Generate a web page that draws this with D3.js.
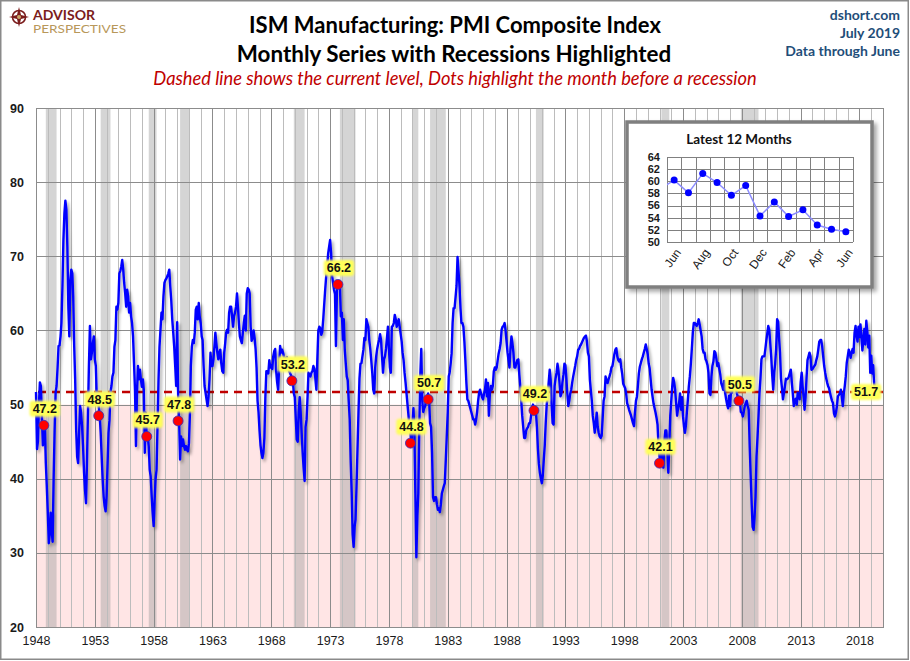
<!DOCTYPE html>
<html>
<head>
<meta charset="utf-8">
<title>ISM Manufacturing: PMI Composite Index</title>
<script src="https://cdn.jsdelivr.net/npm/d3@7"></script>
<style>
  body { margin: 0; background: #fff; }
  svg { display: block; }
</style>
</head>
<body>
<div id="chart"></div>
<script>
// -----------------------------
// DATA (monthly PMI, starts Jan 1948)
// -----------------------------
const pmi1940s = [
  51.7, 44.0, 45.0, 50.0, 53.0, 52.5, 48.5, 44.5, 46.0, 47.2, 42.1, 39.0,
  35.5, 31.3, 32.5, 35.4, 33.0, 31.5, 40.0, 46.5, 51.6, 52.5, 55.0, 57.9
];
const pmi1950s = [
  58.0, 59.2, 61.0, 66.0, 72.2, 75.8, 77.5, 76.3, 71.3, 63.2, 59.2, 66.8,
  68.2, 67.7, 64.6, 57.9, 53.4, 46.6, 43.0, 42.1, 46.2, 49.8, 48.9, 47.1,
  44.4, 40.8, 38.5, 36.7, 42.1, 48.9, 55.2, 60.6, 56.1, 57.0, 58.3, 59.2,
  56.1, 55.2, 51.1, 51.6, 49.8, 48.5, 46.2, 43.0, 39.9, 37.6, 36.3, 35.6,
  37.6, 42.1, 46.2, 47.9, 51.6, 52.5, 53.8, 54.3, 57.8, 58.7, 63.2, 62.8,
  63.7, 67.7, 68.0, 68.6, 69.5, 68.2, 66.4, 65.0, 63.2, 65.5, 64.6, 62.4,
  63.7, 61.9, 61.0, 59.2, 55.6, 52.0, 44.4, 51.6, 55.2, 53.4, 54.7, 53.4,
  52.4, 53.4, 52.0, 43.5, 48.9, 45.3, 45.7, 44.4, 41.2, 40.3, 37.6, 35.4,
  33.6, 37.2, 39.9, 41.2, 47.1, 53.4, 57.8, 60.1, 62.4, 61.5, 64.6, 66.4,
  66.8, 67.0, 67.3, 67.7, 68.2, 65.9, 64.1, 61.5, 59.7, 57.8, 55.2, 52.5
];
const pmi1960s = [
  61.1, 51.1, 47.8, 42.6, 45.7, 44.4, 45.3, 44.4, 43.9, 44.4, 43.9, 43.7,
  44.8, 48.9, 55.2, 57.8, 58.7, 58.3, 59.7, 62.8, 63.2, 61.5, 63.7, 61.9,
  61.0, 59.2, 58.7, 55.2, 52.5, 51.6, 50.7, 49.8, 51.1, 53.4, 57.0, 55.2,
  55.2, 56.1, 57.8, 59.7, 58.3, 57.0, 56.1, 57.0, 57.4, 55.6, 54.5, 54.3,
  57.0, 58.3, 59.7, 60.1, 59.7, 62.4, 63.2, 63.2, 61.9, 60.5, 61.9, 62.4,
  63.2, 65.0, 63.2, 61.0, 59.2, 58.7, 58.3, 59.7, 61.0, 62.0, 60.0, 65.0,
  65.7, 65.5, 65.0, 60.5, 58.6, 59.0, 60.0, 59.0, 57.5, 55.0, 50.5, 49.0,
  46.5, 44.5, 43.5, 42.8, 43.5, 45.5, 51.0, 54.5, 54.5, 54.2, 56.0, 55.0,
  55.3, 54.8, 56.5, 57.2, 57.5, 54.5, 53.0, 52.0, 55.0, 57.9, 57.0, 57.4,
  57.0, 56.4, 56.3, 56.2, 56.4, 55.2, 54.6, 54.3, 54.0, 53.5, 53.2, 51.5
];
const pmi1970s = [
  51.0, 48.0, 45.3, 45.0, 49.0, 51.0, 49.0, 46.2, 43.5, 41.5, 39.7, 47.0,
  48.0, 51.1, 54.3, 54.0, 53.8, 54.3, 54.5, 55.2, 54.8, 53.5, 52.0, 56.1,
  60.0, 60.5, 60.3, 59.4, 59.8, 61.5, 63.5, 65.5, 67.3, 68.6, 70.4, 71.3,
  72.2, 70.4, 67.5, 66.4, 65.5, 64.9, 57.9, 65.5, 66.5, 66.2, 66.0, 61.9,
  62.4, 58.7, 61.5, 57.4, 55.6, 53.8, 53.3, 50.5, 48.0, 42.5, 38.2, 32.5,
  30.8, 33.5, 34.5, 39.0, 44.0, 49.0, 53.5, 55.5, 55.6, 56.5, 57.4, 59.0,
  58.7, 61.5, 61.0, 60.5, 58.7, 57.5, 56.0, 54.3, 52.0, 51.5, 55.0, 56.5,
  57.5, 58.2, 58.7, 59.5, 58.7, 56.5, 54.3, 56.1, 56.5, 57.5, 59.0, 60.5,
  57.5, 55.0, 54.3, 60.5, 60.6, 61.0, 62.1, 61.5, 60.5, 61.0, 61.5, 60.5,
  59.5, 58.5, 57.0, 56.0, 54.3, 53.0, 51.5, 50.0, 48.5, 47.0, 46.0, 44.8
];
const pmi1980s = [
  47.0, 49.5, 46.5, 38.0, 29.4, 35.0, 38.0, 47.0, 54.0, 57.5, 50.5, 49.0,
  49.5, 49.8, 50.5, 51.0, 51.5, 50.7, 47.5, 47.0, 43.5, 37.5, 37.0, 37.5,
  37.5, 36.5, 35.8, 36.0, 35.5, 36.5, 38.0, 38.5, 39.0, 39.4, 42.5, 45.7,
  49.0, 53.8, 54.3, 55.5, 56.9, 61.0, 63.0, 63.0, 64.5, 66.0, 69.9, 68.0,
  66.0, 63.0, 61.0, 61.0, 60.5, 58.5, 56.0, 53.0, 50.7, 50.5, 50.0, 49.5,
  49.0, 48.5, 48.0, 48.0, 47.3, 48.0, 49.0, 50.5, 51.6, 52.0, 51.5, 51.0,
  50.7, 51.5, 52.0, 53.4, 51.1, 52.9, 48.5, 51.5, 52.5, 52.0, 52.5, 54.5,
  55.0, 54.7, 55.0, 56.0, 56.9, 57.5, 58.3, 60.1, 60.5, 60.6, 61.0, 60.0,
  58.5, 57.0, 56.0, 55.0, 57.5, 59.2, 58.3, 57.0, 55.0, 55.0, 55.6, 56.0,
  56.1, 54.0, 52.5, 50.5, 48.5, 47.0, 45.5, 45.5, 46.5, 46.8, 47.0, 47.5
];
const pmi1990s = [
  47.5, 48.5, 49.5, 50.0, 49.5, 49.2, 49.0, 47.0, 44.0, 42.0, 40.8, 40.0,
  39.4, 40.5, 42.5, 44.5, 47.5, 50.0, 51.3, 53.0, 54.7, 53.4, 50.0, 47.5,
  47.3, 52.5, 53.5, 54.3, 55.5, 54.5, 53.0, 51.1, 51.5, 53.0, 54.0, 55.5,
  55.3, 53.5, 51.5, 49.8, 50.5, 51.5, 52.0, 53.0, 53.8, 54.5, 55.2, 56.0,
  56.5, 57.4, 57.5, 57.9, 58.1, 58.4, 58.7, 59.0, 59.2, 59.3, 58.5, 57.0,
  56.5, 53.3, 52.0, 50.5, 48.5, 47.5, 46.2, 47.5, 48.9, 47.0, 46.2, 45.7,
  45.5, 45.8, 48.0, 50.5, 51.1, 53.8, 53.2, 52.9, 53.4, 53.8, 54.3, 55.0,
  55.2, 56.0, 56.8, 57.4, 57.6, 56.5, 56.0, 55.8, 56.1, 55.0, 54.1, 52.8,
  52.5, 52.2, 51.5, 50.2, 49.8, 49.3, 48.9, 48.5, 48.0, 47.5, 47.1, 49.0,
  50.5, 51.1, 52.5, 54.2, 55.1, 55.6, 56.1, 56.5, 57.0, 57.5, 58.1, 57.5
];
const pmi2000s = [
  56.8, 55.5, 54.9, 53.4, 52.0, 51.0, 50.1, 49.5, 48.9, 48.2, 47.3, 44.5,
  43.0, 42.1, 43.5, 42.0, 41.5, 45.0, 46.5, 46.5, 44.0, 40.8, 44.5, 48.5,
  50.5, 52.5, 53.6, 53.0, 52.0, 50.2, 48.5, 49.5, 50.2, 51.5, 49.3, 51.0,
  48.4, 47.0, 46.2, 47.2, 49.0, 50.7, 52.5, 53.8, 55.5, 57.5, 59.7, 61.0,
  61.0, 60.8, 60.6, 61.0, 61.5, 60.8, 60.0, 59.2, 57.5, 57.0, 57.0, 56.1,
  55.8, 55.3, 54.3, 51.5, 51.3, 53.8, 55.2, 55.8, 57.2, 57.0, 56.2, 55.2,
  55.6, 54.8, 54.1, 52.9, 52.5, 52.0, 53.2, 51.6, 50.7, 50.0, 49.5, 51.2,
  49.8, 52.0, 51.6, 52.5, 52.5, 53.0, 52.5, 51.5, 51.0, 50.5, 50.5, 49.0,
  48.9, 48.4, 49.0, 49.8, 50.2, 50.5, 49.8, 49.3, 44.4, 40.5, 36.7, 33.5,
  33.1, 35.0, 37.5, 43.0, 45.5, 48.4, 51.5, 53.5, 56.1, 56.5, 56.5, 56.5
];
const pmi2010s = [
  57.5, 58.7, 59.6, 60.6, 60.1, 58.3, 56.5, 54.0, 52.0, 54.3, 55.5, 57.5,
  61.5, 61.2, 59.0, 57.0, 53.5, 52.2, 50.7, 51.6, 52.5, 53.5, 53.4, 53.5,
  53.8, 54.3, 54.7, 53.0, 51.5, 49.8, 50.5, 50.8, 50.0, 51.6, 51.5, 50.7,
  53.0, 54.3, 52.5, 51.0, 49.3, 51.0, 53.5, 56.0, 56.5, 57.0, 56.5, 54.7,
  54.8, 55.0, 55.2, 55.4, 56.0, 56.5, 57.4, 58.5, 58.7, 58.7, 57.8, 56.5,
  55.2, 54.3, 53.6, 53.0, 52.5, 52.2, 51.6, 51.0, 50.5, 50.2, 48.8, 48.4,
  48.9, 49.8, 51.1, 51.3, 51.5, 52.0, 51.0, 49.8, 51.5, 52.5, 53.8, 55.6,
  56.5, 57.4, 57.0, 56.3, 57.0, 57.5, 57.0, 59.7, 60.6, 59.3, 58.5, 60.5,
  59.1, 60.8, 59.3, 57.3, 58.7, 60.2, 58.1, 61.3, 59.8, 57.7, 59.3, 54.3,
  56.6, 54.2, 55.3, 52.8, 52.1, 51.7
];

// NBER recessions (peak month, trough month)
const recessionStart = ["1948-11", "1953-07", "1957-08", "1960-04", "1969-12", "1973-11",
                        "1980-01", "1981-07", "1990-07", "2001-03", "2007-12"];
const recessionEnd   = ["1949-10", "1954-05", "1958-04", "1961-02", "1970-11", "1975-03",
                        "1980-07", "1982-11", "1991-03", "2001-11", "2009-06"];

// month before each recession (red dots)
const monthBefore = ["1948-10", "1953-06", "1957-07", "1960-03", "1969-11", "1973-10",
                     "1979-12", "1981-06", "1990-06", "2001-02", "2007-11"];

const yTicks = [20, 30, 40, 50, 60, 70, 80, 90];
const xTickYears = [1948, 1953, 1958, 1963, 1968, 1973, 1978, 1983, 1988, 1993, 1998, 2003, 2008, 2013, 2018];

// inset: latest 12 months (plus the month before, cut at the frame)
const insetMonths = ["Jun", "Jul", "Aug", "Sep", "Oct", "Nov", "Dec", "Jan", "Feb", "Mar", "Apr", "May", "Jun"];
const insetValues = [60.2, 58.1, 61.3, 59.8, 57.7, 59.3, 54.3, 56.6, 54.2, 55.3, 52.8, 52.1, 51.7];
const insetLeadIn = 58.7;
const insetTicks = [50, 52, 54, 56, 58, 60, 62, 64];

// -----------------------------
// SERIES
// -----------------------------
const pmiValues = [].concat(pmi1940s, pmi1950s, pmi1960s, pmi1970s, pmi1980s, pmi1990s, pmi2000s, pmi2010s);
const series = pmiValues.map((v, i) => ({ date: new Date(1948, i, 1), value: v }));
const current = series[series.length - 1];

const parseMonth = s => { const [yy, mm] = s.split("-").map(Number); return new Date(yy, mm - 1, 1); };
const monthIndex = s => { const [yy, mm] = s.split("-").map(Number); return (yy - 1948) * 12 + mm - 1; };

// -----------------------------
// SVG + SCALES
// -----------------------------
const width = 910, height = 661;
const plotLeft = 36, plotRight = 883, plotTop = 108, plotBottom = 627;

const svg = d3.select("#chart").append("svg")
  .attr("width", width)
  .attr("height", height)
  .style("font-family", "'Liberation Sans', Arial, sans-serif");

const x = d3.scaleTime()
  .domain([new Date(1948, 0, 1), new Date(2020, 0, 1)])
  .range([plotLeft, plotRight]);

const y = d3.scaleLinear()
  .domain([20, 90])
  .range([plotBottom, plotTop]);

const defs = svg.append("defs");

const shadow = defs.append("filter").attr("id", "lineShadow")
  .attr("x", "-5%").attr("y", "-5%").attr("width", "110%").attr("height", "110%");
shadow.append("feDropShadow")
  .attr("dx", 2).attr("dy", 2.5).attr("stdDeviation", 1.6)
  .attr("flood-color", "#000").attr("flood-opacity", 0.35);

const glow = defs.append("filter").attr("id", "glow")
  .attr("x", "-30%").attr("y", "-40%").attr("width", "160%").attr("height", "180%");
glow.append("feGaussianBlur").attr("stdDeviation", 1.3);

const boxShadow = defs.append("filter").attr("id", "boxShadow")
  .attr("x", "-10%").attr("y", "-10%").attr("width", "125%").attr("height", "125%");
boxShadow.append("feDropShadow")
  .attr("dx", 3).attr("dy", 3).attr("stdDeviation", 2)
  .attr("flood-color", "#000").attr("flood-opacity", 0.35);

// outer frame
svg.append("rect")
  .attr("x", 0.75).attr("y", 0.75)
  .attr("width", 907.5).attr("height", 658.5)
  .attr("fill", "#fff")
  .attr("stroke", "#8a8a8a")
  .attr("stroke-width", 1.5);

// -----------------------------
// HEADER
// -----------------------------
const logo = svg.append("g").attr("transform", "translate(19,17)");
logo.append("circle").attr("r", 6.5).attr("fill", "none").attr("stroke", "#7b1c1c").attr("stroke-width", 1.6);
logo.append("path")
  .attr("d", "M0,-10 L2,-2 L10,0 L2,2 L0,10 L-2,2 L-10,0 L-2,-2 Z")
  .attr("fill", "#7b1c1c");
logo.append("circle").attr("r", 2).attr("fill", "#c9a86a");

svg.append("text")
  .attr("x", 33).attr("y", 19.5)
  .attr("font-family", "Lato, sans-serif")
  .attr("font-weight", "bold")
  .attr("font-size", 12.5)
  .attr("textLength", 62)
  .attr("lengthAdjust", "spacingAndGlyphs")
  .attr("fill", "#7b1c1c")
  .text("ADVISOR");

svg.append("text")
  .attr("x", 33).attr("y", 33)
  .attr("font-family", "Lato, sans-serif")
  .attr("font-size", 11)
  .attr("textLength", 93)
  .attr("lengthAdjust", "spacingAndGlyphs")
  .attr("fill", "#b8985a")
  .text("PERSPECTIVES");

svg.append("text")
  .attr("x", 455).attr("y", 33)
  .attr("text-anchor", "middle")
  .attr("font-family", "Lato, sans-serif")
  .attr("font-weight", "bold")
  .attr("font-size", 22)
  .attr("fill", "#000")
  .text("ISM Manufacturing: PMI Composite Index");

svg.append("text")
  .attr("x", 454).attr("y", 62)
  .attr("text-anchor", "middle")
  .attr("font-family", "Lato, sans-serif")
  .attr("font-weight", "bold")
  .attr("font-size", 22.4)
  .attr("fill", "#000")
  .text("Monthly Series with Recessions Highlighted");

svg.append("text")
  .attr("x", 455).attr("y", 85)
  .attr("text-anchor", "middle")
  .attr("font-family", "Lato, sans-serif")
  .attr("font-style", "italic")
  .attr("font-size", 18.3)
  .attr("fill", "#c00000")
  .text("Dashed line shows the current level, Dots highlight the month before a recession");

const stamp = ["dshort.com", "July 2019", "Data through June"];
svg.selectAll("text.stamp")
  .data(stamp)
  .join("text")
  .attr("class", "stamp")
  .attr("x", 900)
  .attr("y", (d, i) => 20 + i * 18)
  .attr("text-anchor", "end")
  .attr("font-family", "Lato, sans-serif")
  .attr("font-weight", "bold")
  .attr("font-size", 14)
  .attr("fill", "#1f4e79")
  .text(d => d);

// -----------------------------
// PLOT BACKGROUND
// -----------------------------
svg.append("rect")
  .attr("x", plotLeft).attr("y", y(50))
  .attr("width", plotRight - plotLeft).attr("height", y(20) - y(50))
  .attr("fill", "#ffe5e5");

svg.selectAll("rect.recession")
  .data(recessionStart.map((s, i) => [parseMonth(s), parseMonth(recessionEnd[i])]))
  .join("rect")
  .attr("class", "recession")
  .attr("x", d => x(d[0]))
  .attr("y", plotTop)
  .attr("width", d => x(d[1]) - x(d[0]))
  .attr("height", plotBottom - plotTop)
  .attr("fill", "#9a9a9a")
  .attr("opacity", 0.42);

// yearly gridlines, darker every 5 years
const years = d3.range(1949, 2020);
svg.selectAll("line.vgrid")
  .data(years)
  .join("line")
  .attr("class", "vgrid")
  .attr("x1", d => Math.round(x(new Date(d, 0, 1))) + 0.5)
  .attr("x2", d => Math.round(x(new Date(d, 0, 1))) + 0.5)
  .attr("y1", plotTop).attr("y2", plotBottom)
  .attr("stroke", d => (d - 1948) % 5 === 0 ? "#8c8c8c" : "#bcbcbc")
  .attr("stroke-width", 1);

svg.selectAll("line.hgrid")
  .data(yTicks.slice(1, -1))
  .join("line")
  .attr("class", "hgrid")
  .attr("x1", plotLeft).attr("x2", plotRight)
  .attr("y1", d => Math.round(y(d)) + 0.5)
  .attr("y2", d => Math.round(y(d)) + 0.5)
  .attr("stroke", "#8c8c8c")
  .attr("stroke-width", 1);

svg.append("rect")
  .attr("x", plotLeft + 0.5).attr("y", plotTop + 0.5)
  .attr("width", plotRight - plotLeft).attr("height", plotBottom - plotTop)
  .attr("fill", "none")
  .attr("stroke", "#8c8c8c")
  .attr("stroke-width", 1);

// -----------------------------
// AXES
// -----------------------------
const yAxis = svg.append("g")
  .attr("transform", `translate(${plotLeft - 12},0)`)
  .call(d3.axisLeft(y).tickValues(yTicks).tickSize(0).tickPadding(0));
yAxis.select(".domain").remove();
yAxis.selectAll("text")
  .attr("font-family", "'Liberation Sans', Arial, sans-serif")
  .attr("font-weight", "bold")
  .attr("font-size", 12.5)
  .attr("fill", "#1a1a1a");

const xAxis = svg.append("g")
  .attr("transform", `translate(0,${plotBottom + 9})`)
  .call(d3.axisBottom(x)
    .tickValues(xTickYears.map(yr => new Date(yr, 0, 1)))
    .tickFormat(d3.timeFormat("%Y"))
    .tickSize(0).tickPadding(0));
xAxis.select(".domain").remove();
xAxis.selectAll("text")
  .attr("font-family", "'Liberation Sans', Arial, sans-serif")
  .attr("font-size", 12.5)
  .attr("fill", "#1a1a1a");

// -----------------------------
// CURRENT LEVEL + SERIES
// -----------------------------
svg.append("line")
  .attr("x1", plotLeft + 2).attr("x2", plotRight)
  .attr("y1", y(current.value)).attr("y2", y(current.value))
  .attr("stroke", "#c00000")
  .attr("stroke-width", 2.5)
  .attr("stroke-dasharray", "8,6");

const line = d3.line()
  .x(d => x(d.date))
  .y(d => y(d.value));

svg.append("path")
  .datum(series)
  .attr("d", line)
  .attr("fill", "none")
  .attr("stroke", "#0000ff")
  .attr("stroke-width", 2.4)
  .attr("stroke-linejoin", "round")
  .attr("filter", "url(#lineShadow)");

// -----------------------------
// DOTS + LABELS
// -----------------------------
const dotData = monthBefore.map(s => series[monthIndex(s)]);

function addLabel(cx, cy, txt) {
  const g = svg.append("g").attr("transform", `translate(${cx},${cy})`);
  const bg = g.append("rect").attr("fill", "#ffff5a").attr("filter", "url(#glow)");
  const t = g.append("text")
    .attr("text-anchor", "middle")
    .attr("dy", "0.35em")
    .attr("font-family", "'Liberation Sans', Arial, sans-serif")
    .attr("font-weight", "bold")
    .attr("font-size", 12.5)
    .attr("fill", "#111")
    .text(txt);
  const w = t.node().getComputedTextLength();
  bg.attr("x", -w / 2 - 3).attr("y", -8).attr("width", w + 6).attr("height", 16).attr("rx", 3);
}

svg.selectAll("circle.dot")
  .data(dotData)
  .join("circle")
  .attr("class", "dot")
  .attr("cx", d => x(d.date) - 1)
  .attr("cy", d => y(d.value))
  .attr("r", 5)
  .attr("fill", "#ff0000")
  .attr("stroke", "#3030c0")
  .attr("stroke-width", 0.8);

dotData.forEach(d => addLabel(x(d.date), y(d.value) - 16.5, d.value.toFixed(1)));

addLabel(x(current.date) - 10, y(current.value), current.value.toFixed(1));

// -----------------------------
// INSET: LATEST 12 MONTHS
// -----------------------------
const inset = svg.append("g");

inset.append("rect")
  .attr("x", 627).attr("y", 122)
  .attr("width", 245).attr("height", 165)
  .attr("fill", "#fff")
  .attr("stroke", "#7f7f7f")
  .attr("stroke-width", 3.5)
  .attr("filter", "url(#boxShadow)");

inset.append("text")
  .attr("x", 739).attr("y", 144)
  .attr("text-anchor", "middle")
  .attr("font-family", "Lato, sans-serif")
  .attr("font-weight", "bold")
  .attr("font-size", 13.5)
  .attr("fill", "#111")
  .text("Latest 12 Months");

const ix = d3.scaleBand()
  .domain(d3.range(insetMonths.length))
  .range([667, 853]);

const iy = d3.scaleLinear()
  .domain([50, 64])
  .range([242, 157]);

inset.append("clipPath").attr("id", "insetClip")
  .append("rect").attr("x", 667).attr("y", 150).attr("width", 186).attr("height", 100);

inset.selectAll("line.ih")
  .data(insetTicks)
  .join("line")
  .attr("class", "ih")
  .attr("x1", 667).attr("x2", 853)
  .attr("y1", d => Math.round(iy(d)) + 0.5)
  .attr("y2", d => Math.round(iy(d)) + 0.5)
  .attr("stroke", "#808080");

inset.selectAll("line.iv")
  .data(d3.range(insetMonths.length + 1))
  .join("line")
  .attr("class", "iv")
  .attr("x1", i => Math.round(667 + i * ix.step()) + 0.5)
  .attr("x2", i => Math.round(667 + i * ix.step()) + 0.5)
  .attr("y1", 157).attr("y2", 242)
  .attr("stroke", "#808080");

const insetPts = [{ i: -1, v: insetLeadIn }].concat(insetValues.map((v, i) => ({ i, v })));
const ixc = i => 667 + (i + 0.5) * ix.step();

inset.append("path")
  .datum(insetPts)
  .attr("clip-path", "url(#insetClip)")
  .attr("d", d3.line().x(d => ixc(d.i)).y(d => iy(d.v)))
  .attr("fill", "none")
  .attr("stroke", "#8c8cff")
  .attr("stroke-width", 1.5);

inset.selectAll("circle.ip")
  .data(insetPts.slice(1))
  .join("circle")
  .attr("class", "ip")
  .attr("cx", d => ixc(d.i))
  .attr("cy", d => iy(d.v))
  .attr("r", 3.5)
  .attr("fill", "#0000ff");

inset.selectAll("text.iyl")
  .data(insetTicks)
  .join("text")
  .attr("class", "iyl")
  .attr("x", 660)
  .attr("y", d => iy(d))
  .attr("dy", "0.35em")
  .attr("text-anchor", "end")
  .attr("font-family", "'Liberation Sans', Arial, sans-serif")
  .attr("font-weight", "bold")
  .attr("font-size", 11)
  .attr("fill", "#1a1a1a")
  .text(d => d);

inset.selectAll("text.ixl")
  .data(insetMonths.map((m, i) => ({ m, i })).filter(d => d.i % 2 === 0))
  .join("text")
  .attr("class", "ixl")
  .attr("transform", d => `translate(${ixc(d.i) + 4},${250}) rotate(-55)`)
  .attr("text-anchor", "end")
  .attr("dy", "0.35em")
  .attr("font-family", "'Liberation Sans', Arial, sans-serif")
  .attr("font-size", 12)
  .attr("fill", "#1a1a1a")
  .text(d => d.m);
</script>
</body>
</html>
